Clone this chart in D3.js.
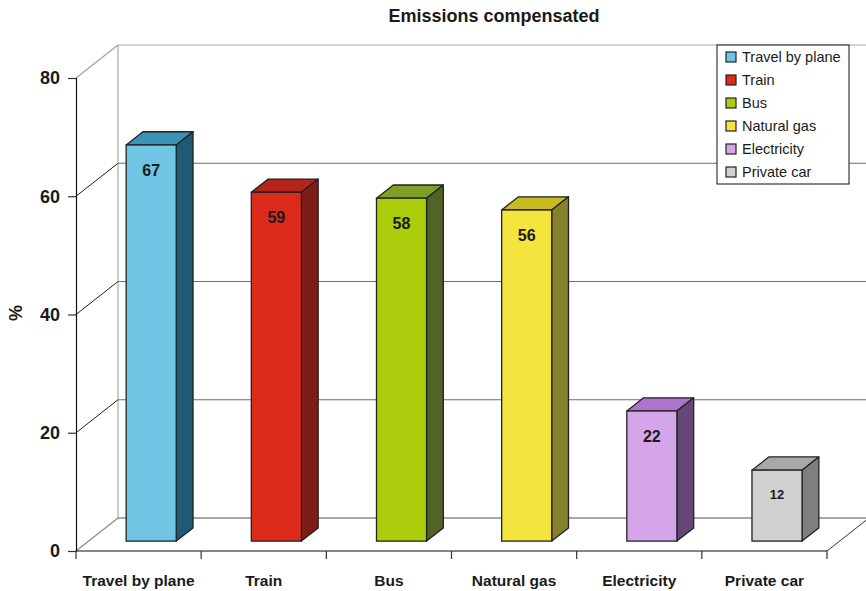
<!DOCTYPE html>
<html>
<head>
<meta charset="utf-8">
<script src="https://cdn.jsdelivr.net/npm/d3@7"></script>
<style>
  html, body { margin: 0; padding: 0; background: #fff; }
  svg { display: block; font-family: "Liberation Sans", Arial, sans-serif; }
</style>
</head>
<body>
<svg id="chart" width="866" height="591"></svg>
<script>
// Share of emissions compensated, by source (%)
const categories = ["Travel by plane", "Train", "Bus", "Natural gas", "Electricity", "Private car"];
const values = [67, 59, 58, 56, 22, 12];
const yTicks = [0, 20, 40, 60, 80];

// Face colours per bar: front, side, top
const frontColors = ["#71c5e4", "#dc2b1b", "#abcd0c", "#f5e33e", "#d4a5e8", "#d0d2d0"];
const sideColors  = ["#1f5b75", "#7e1d15", "#4f6426", "#85812c", "#654878", "#7f7f7f"];
const topColors   = ["#3a92b4", "#b3241a", "#7ea024", "#c8bb22", "#ad74cf", "#a8a8a8"];

const svg = d3.select("#chart");

// Front plane of the 3D box and its depth offset
const plotLeft = 76, plotRight = 827, plotBottom = 551, plotTop = 78;
const DX = 42, DY = -33;
const zFront = 0.3, zBack = 0.7;

const y = d3.scaleLinear().domain([0, 80]).range([plotBottom, plotTop]);
const x = d3.scaleBand().domain(categories).range([plotLeft, plotRight])
  .paddingInner(0.6).paddingOuter(0.3);
const step = x.step();

const off = z => [DX * z, DY * z];
const line = (x1, y1, x2, y2, color, w) =>
  svg.append("line").attr("x1", x1).attr("y1", y1).attr("x2", x2).attr("y2", y2)
    .attr("stroke", color).attr("stroke-width", w || 1);

// Back wall edges
line(plotLeft + DX, y(80) + DY, 866, y(80) + DY, "#a8a8a8", 1.2);
line(plotLeft + DX, y(80) + DY, plotLeft + DX, y(0) + DY, "#a8a8a8", 1.2);
line(plotLeft, y(80), plotLeft + DX, y(80) + DY, "#a0a0a0", 1.2);

// Gridlines on back wall and left side wall
yTicks.filter(v => v > 0 && v < 80).forEach(v => {
  line(plotLeft + DX, y(v) + DY, 866, y(v) + DY, "#6e6e6e", 1.2);
  line(plotLeft, y(v), plotLeft + DX, y(v) + DY, "#222", 1);
});

// Floor
line(plotLeft + DX, y(0) + DY, 866, y(0) + DY, "#8a8a8a", 1.5);
line(plotLeft, y(0), plotLeft + DX, y(0) + DY, "#8a8a8a", 1.2);
line(plotRight, y(0), plotRight + DX, y(0) + DY, "#333", 1);

// Y axis on front plane
const yAxis = d3.axisLeft(y).tickValues(yTicks).tickSize(8).tickPadding(8);
const gy = svg.append("g").attr("transform", `translate(${plotLeft},0)`).call(yAxis);
gy.select(".domain").attr("stroke", "#111").attr("stroke-width", 1.2);
gy.selectAll(".tick line").attr("stroke", "#333").attr("stroke-width", 1.2);
gy.selectAll(".tick text").attr("font-size", 18).attr("font-weight", "bold")
  .attr("fill", "#1a1a1a").attr("font-family", "Liberation Sans, Arial, sans-serif");

// X axis on front plane with ticks at category boundaries
svg.append("line").attr("x1", plotLeft).attr("x2", plotRight).attr("y1", plotBottom).attr("y2", plotBottom)
  .attr("stroke", "#111").attr("stroke-width", 1.2);
d3.range(categories.length + 1).forEach(i => {
  const xx = plotLeft + i * step;
  line(xx, plotBottom, xx, plotBottom + 8, "#333", 1.2);
});
svg.append("g").selectAll("text").data(categories).join("text")
  .attr("x", d => x(d) + x.bandwidth() / 2)
  .attr("y", 586)
  .attr("text-anchor", "middle")
  .attr("font-size", 15.5).attr("font-weight", "bold").attr("fill", "#1a1a1a")
  .text(d => d);

// Bars as 3D boxes
const data = categories.map((c, i) => ({ c, v: values[i], i }));
const bars = svg.append("g");
data.forEach(d => {
  const [fx, fy] = off(zFront);
  const [bx, by] = off(zBack);
  const x0 = x(d.c) + fx, x1 = x(d.c) + x.bandwidth() + fx;
  const yt = y(d.v) + fy, yb = y(0) + fy;
  const ddx = bx - fx, ddy = by - fy;
  const g = bars.append("g");
  const stroke = "#222", sw = 1.3;
  // top face
  g.append("path")
    .attr("d", `M${x0},${yt}L${x0 + ddx},${yt + ddy}L${x1 + ddx},${yt + ddy}L${x1},${yt}Z`)
    .attr("fill", topColors[d.i]).attr("stroke", stroke).attr("stroke-width", sw)
    .attr("stroke-linejoin", "round");
  // side face
  g.append("path")
    .attr("d", `M${x1},${yt}L${x1 + ddx},${yt + ddy}L${x1 + ddx},${yb + ddy}L${x1},${yb}Z`)
    .attr("fill", sideColors[d.i]).attr("stroke", stroke).attr("stroke-width", sw)
    .attr("stroke-linejoin", "round");
  // front face
  g.append("rect")
    .attr("x", x0).attr("y", yt).attr("width", x1 - x0).attr("height", yb - yt)
    .attr("fill", frontColors[d.i]).attr("stroke", stroke).attr("stroke-width", sw);
  // value label
  const small = d.v < 15;
  g.append("text")
    .attr("x", (x0 + x1) / 2).attr("y", yt + (small ? 29 : 31))
    .attr("text-anchor", "middle")
    .attr("font-size", small ? 13 : 16).attr("font-weight", "bold").attr("fill", "#1a1a1a")
    .text(d.v);
});

// Title
svg.append("text").attr("x", 494).attr("y", 22).attr("text-anchor", "middle")
  .attr("font-size", 18).attr("font-weight", "bold").attr("fill", "#1a1a1a")
  .text("Emissions compensated");

// Y axis title
svg.append("text").attr("transform", "translate(22,313) rotate(-90)")
  .attr("text-anchor", "middle")
  .attr("font-size", 18).attr("font-weight", "bold").attr("fill", "#1a1a1a")
  .text("%");

// Legend
const lg = svg.append("g").attr("transform", "translate(717,45)");
lg.append("rect").attr("width", 132).attr("height", 139)
  .attr("fill", "#fff").attr("stroke", "#111").attr("stroke-width", 1);
categories.forEach((c, i) => {
  const row = lg.append("g").attr("transform", `translate(9,${12 + i * 23})`);
  row.append("rect").attr("x", 0).attr("y", -5).attr("width", 10).attr("height", 10)
    .attr("fill", frontColors[i]).attr("stroke", "#222").attr("stroke-width", 1.2);
  row.append("text").attr("x", 16).attr("y", 5)
    .attr("font-size", 14.5).attr("fill", "#1a1a1a").text(c);
});
</script>
</body>
</html>
